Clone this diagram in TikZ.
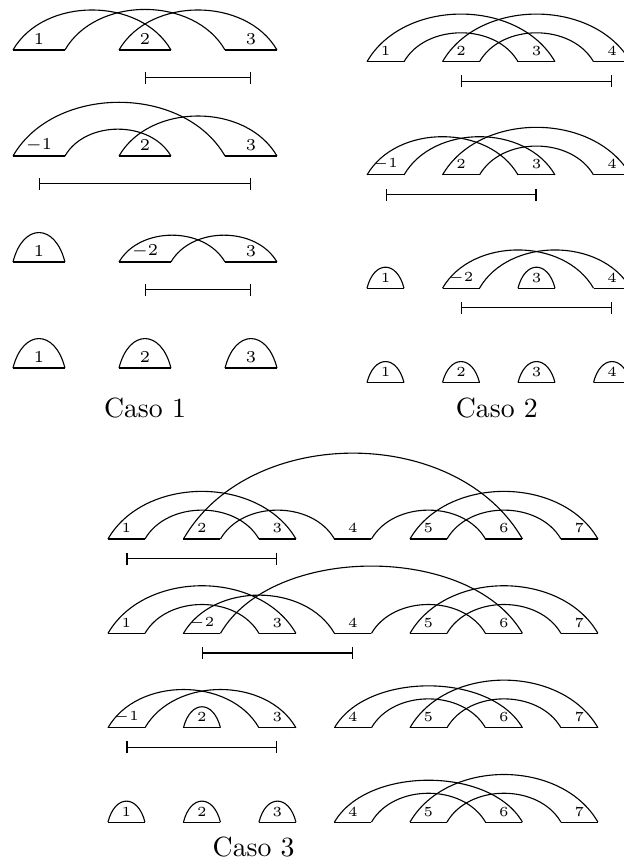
\documentclass[tikz,border=0pt]{standalone}
\usetikzlibrary{arrows.meta}

\tikzset{
  arco/.style={out=60, in=120},
  cupula/.style={out=76, in=104, looseness=2},
  tramo/.style={arrows={Bar[width=4.3pt]-Bar[width=4.3pt]}},
}

% fila de bases: #1 prefijo, #2 altura, #3 etiquetas
\newcommand{\fila}[3]{%
  \foreach \e [count=\i] in {#3} {
    \coordinate (#1l\i) at (\i-1,#2);
    \coordinate (#1r\i) at (\i-0.51,#2);
    \coordinate (#1c\i) at (\i-0.755,#2-0.26);
    \draw (#1l\i) -- (#1r\i);
    \node[etiq] (#1n\i) at (\i-0.755,#2+\altoetiq) {$\e$};
  }%
}

\begin{document}
\begin{tikzpicture}[x=27.18pt, y=27.18pt]
    \useasboundingbox (0,0) rectangle (8.265,-11.457);

    % 1. Caso 1
    \begin{scope}[shift={(0.172,-0.662)}, scale=1.404, etiq/.style={font=\fontsize{6.5}{7}\selectfont}]
        \def\altoetiq{0.1}
        \fila{c1a}{0}{1,2,3}
        \draw (c1al1) to[arco] (c1ar2);
        \draw (c1ar1) to[arco] (c1al3);
        \draw (c1al2) to[arco] (c1ar3);
        \draw[tramo] (c1ac2) -- (c1ac3);

        \fila{c1b}{-1}{-1,2,3}
        \draw (c1bl1) to[arco] (c1bl3);
        \draw (c1br1) to[arco] (c1br2);
        \draw (c1bl2) to[arco] (c1br3);
        \draw[tramo] (c1bc1) -- (c1bc3);

        \fila{c1c}{-2}{1,-2,3}
        \draw (c1cl1) to[cupula] (c1cr1);
        \draw (c1cl2) to[arco] (c1cl3);
        \draw (c1cr2) to[arco] (c1cr3);
        \draw[tramo] (c1cc2) -- (c1cc3);

        \fila{c1d}{-3}{1,2,3}
        \foreach \i in {1,2,3}
            \draw (c1dl\i) to[cupula] (c1dr\i);

        \node (caso1) at (1.245,-3.38) {Caso 1};
    \end{scope}

    % 2. Caso 2
    \begin{scope}[shift={(4.861,-0.817)}, etiq/.style={font=\tiny}]
        \def\altoetiq{0.14}
        \fila{c2a}{0}{1,2,3,4}
        \draw (c2al1) to[arco] (c2ar3);
        \draw (c2ar1) to[arco] (c2al3);
        \draw (c2al2) to[arco] (c2ar4);
        \draw (c2ar2) to[arco] (c2al4);
        \draw[tramo] (c2ac2) -- (c2ac4);

        \fila{c2b}{-1.5}{-1,2,3,4}
        \draw (c2bl1) to[arco] (c2bl3);
        \draw (c2br1) to[arco] (c2br3);
        \draw (c2bl2) to[arco] (c2br4);
        \draw (c2br2) to[arco] (c2bl4);
        \draw[tramo] (c2bc1) -- (c2bc3);

        \fila{c2c}{-3}{1,-2,3,4}
        \draw (c2cl1) to[cupula] (c2cr1);
        \draw (c2cl3) to[cupula] (c2cr3);
        \draw (c2cl2) to[arco] (c2cl4);
        \draw (c2cr2) to[arco] (c2cr4);
        \draw[tramo] (c2cc2) -- (c2cc4);

        \fila{c2d}{-4.25}{1,2,3,4}
        \foreach \i in {1,...,4}
            \draw (c2dl\i) to[cupula] (c2dr\i);

        \node (caso2) at (1.72,-4.587) {Caso 2};
    \end{scope}

    % 3. Caso 3
    \begin{scope}[shift={(1.430,-7.139)}, etiq/.style={font=\tiny}]
        \def\altoetiq{0.14}
        \fila{c3a}{0}{1,2,3,4,5,6,7}
        \draw (c3al1) to[arco] (c3ar3);
        \draw (c3ar1) to[arco] (c3al3);
        \draw (c3al2) to[arco] (c3ar6);
        \draw (c3ar2) to[arco] (c3al4);
        \draw (c3ar4) to[arco] (c3al6);
        \draw (c3al5) to[arco] (c3ar7);
        \draw (c3ar5) to[arco] (c3al7);
        \draw[tramo] (c3ac1) -- (c3ac3);

        \fila{c3b}{-1.25}{1,-2,3,4,5,6,7}
        \draw (c3bl1) to[arco] (c3br3);
        \draw (c3br1) to[arco] (c3bl3);
        \draw (c3bl2) to[arco] (c3bl4);
        \draw (c3br2) to[arco, looseness=0.88] (c3br6);
        \draw (c3br4) to[arco] (c3bl6);
        \draw (c3bl5) to[arco] (c3br7);
        \draw (c3br5) to[arco] (c3bl7);
        \draw[tramo] (c3bc2) -- (c3bc4);

        \fila{c3c}{-2.5}{-1,2,3,4,5,6,7}
        \draw (c3cl1) to[arco] (c3cl3);
        \draw (c3cr1) to[arco] (c3cr3);
        \draw (c3cl2) to[cupula] (c3cr2);
        \draw (c3cl4) to[arco, looseness=0.88] (c3cr6);
        \draw (c3cr4) to[arco] (c3cl6);
        \draw (c3cl5) to[arco] (c3cr7);
        \draw (c3cr5) to[arco] (c3cl7);
        \draw[tramo] (c3cc1) -- (c3cc3);

        \fila{c3d}{-3.75}{1,2,3,4,5,6,7}
        \foreach \i in {1,2,3}
            \draw (c3dl\i) to[cupula] (c3dr\i);
        \draw (c3dl4) to[arco, looseness=0.88] (c3dr6);
        \draw (c3dr4) to[arco] (c3dl6);
        \draw (c3dl5) to[arco] (c3dr7);
        \draw (c3dr5) to[arco] (c3dl7);

        \node (caso3) at (1.93,-4.08) {Caso 3};
    \end{scope}
\end{tikzpicture}
\end{document}
